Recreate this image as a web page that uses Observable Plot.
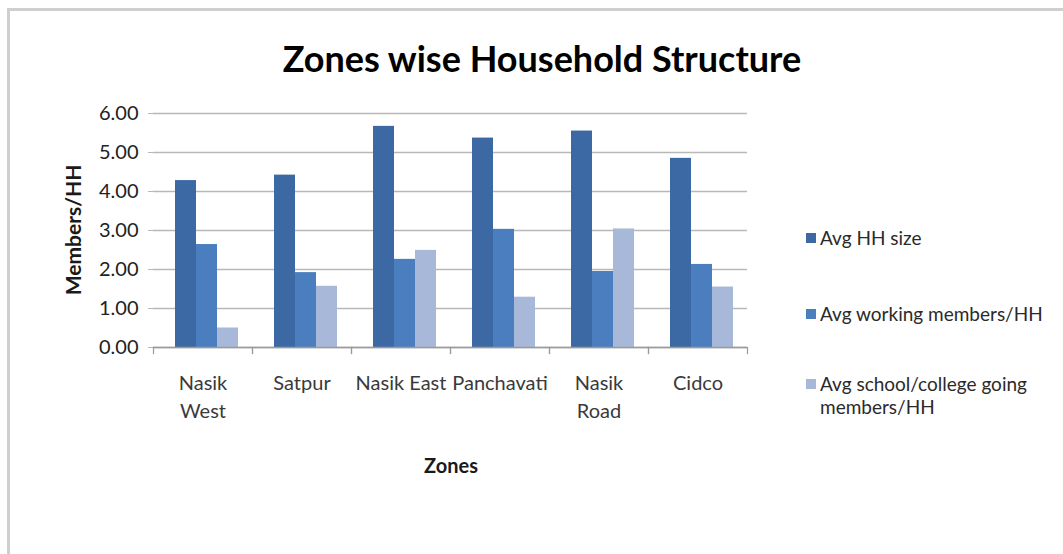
<!DOCTYPE html>
<html><head><meta charset="utf-8">
<script src="https://cdn.jsdelivr.net/npm/d3@7"></script>
<script src="https://cdn.jsdelivr.net/npm/@observablehq/plot@0.6"></script>
<style>
body{margin:0;background:#fff;font-family:Lato,"Open Sans",sans-serif;}
#page{position:relative;width:1063px;height:554px;overflow:hidden;background:#fff;}
#frame{position:absolute;left:7px;top:8px;width:1100px;height:600px;border-left:3px solid #cfcfcf;border-top:3px solid #cfcfcf;box-sizing:border-box;}
#chart{position:absolute;left:0;top:0;}
.t{position:absolute;white-space:nowrap;color:#1a1a1a;}
#title{left:542px;top:40px;transform:translateX(-50%);font-size:36px;font-weight:bold;color:#000;line-height:1;}
#ylab{left:72px;top:230px;transform:translate(-50%,-50%) rotate(-90deg);font-size:21px;font-weight:bold;}
#xlab{left:451px;top:465px;transform:translate(-50%,-50%);font-size:20px;font-weight:bold;}
#legend{position:absolute;left:806px;top:0;}
.li{position:absolute;left:0;font-size:19px;color:#2a2a2a;line-height:23px;white-space:nowrap;}
.sw{position:absolute;left:0;top:7px;width:10px;height:10px;}
.li span.txt{position:absolute;left:14px;top:0;}
</style>
</head><body>
<div id="page">
  <div id="frame"></div>
  <div id="chart"></div>
  <div id="title" class="t">Zones wise Household Structure</div>
  <div id="ylab" class="t">Members/HH</div>
  <div id="xlab" class="t">Zones</div>
  <div id="legend"></div>
</div>
<script>
const zones = ["Nasik West", "Satpur", "Nasik East", "Panchavati", "Nasik Road", "Cidco"];
const zoneLabels = ["Nasik\nWest", "Satpur", "Nasik East", "Panchavati", "Nasik\nRoad", "Cidco"];
const seriesNames = ["Avg HH size", "Avg working members/HH", "Avg school/college going members/HH"];
const avgHHSize = [4.28, 4.42, 5.67, 5.37, 5.55, 4.85];
const avgWorkingMembers = [2.64, 1.92, 2.26, 3.03, 1.95, 2.13];
const avgSchoolCollegeMembers = [0.50, 1.57, 2.49, 1.29, 3.04, 1.55];
const yTicks = [0, 1, 2, 3, 4, 5, 6];
const seriesColors = ["#3C68A3", "#4A7EBF", "#A7B8D9"];

const seriesValues = [avgHHSize, avgWorkingMembers, avgSchoolCollegeMembers];
const rows = [];
zones.forEach((z, i) => {
  seriesNames.forEach((s, j) => rows.push({zone: z, series: s, value: seriesValues[j][i]}));
});

const W = 1063, H = 554, mT = 113, mB = 207, mL = 152, mR = 316;
const plotH = H - mT - mB;

const chart = Plot.plot({
  width: W,
  height: H,
  marginLeft: mL,
  marginRight: mR,
  marginTop: mT,
  marginBottom: mB,
  style: {fontFamily: "Lato, 'Open Sans', sans-serif", fontSize: "16px", color: "#1a1a1a", background: "transparent", overflow: "visible"},
  fx: {domain: zones, paddingInner: 0, paddingOuter: 0, label: null},
  x: {domain: seriesNames, paddingInner: 0, paddingOuter: 0.82, align: 0.6, axis: null},
  y: {domain: [0, 6], label: null},
  color: {domain: seriesNames, range: seriesColors},
  marks: [
    Plot.gridY(yTicks, {stroke: "#b8b8b8", strokeOpacity: 1, strokeWidth: 1.6}),
    Plot.axisY(yTicks, {tickFormat: d => d.toFixed(2), tickSize: 5, tickPadding: 10, stroke: "#b8b8b8", fontSize: 20, fill: "#222", label: null}),
    Plot.barY(rows, {fx: "zone", x: "series", y: "value", fill: "series"}),
    Plot.frame({anchor: "left", stroke: "#9a9a9a", strokeWidth: 1.2, insetTop: plotH, insetBottom: -6}),
    Plot.frame({anchor: "right", stroke: "#9a9a9a", strokeWidth: 1.2, insetTop: plotH, insetBottom: -6}),
    Plot.ruleY([0], {stroke: "#9a9a9a", strokeWidth: 1.6}),
    Plot.axisFx({anchor: "bottom", tickSize: 0, tickPadding: 23, fontSize: 20, lineHeight: 1.4, fill: "#3a3a3a",
      tickFormat: d => zoneLabels[zones.indexOf(d)], label: null})
  ]
});
document.getElementById("chart").appendChild(chart);

const legend = document.getElementById("legend");
const legendTops = [226, 302, 372];
seriesNames.forEach((s, j) => {
  const item = document.createElement("div");
  item.className = "li";
  item.style.top = legendTops[j] + "px";
  const sw = document.createElement("div");
  sw.className = "sw";
  sw.style.background = seriesColors[j];
  item.appendChild(sw);
  const t = document.createElement("span");
  t.className = "txt";
  t.innerHTML = j === 2 ? "Avg school/college going<br>members/HH" : s;
  item.appendChild(t);
  legend.appendChild(item);
});
</script>
</body></html>
